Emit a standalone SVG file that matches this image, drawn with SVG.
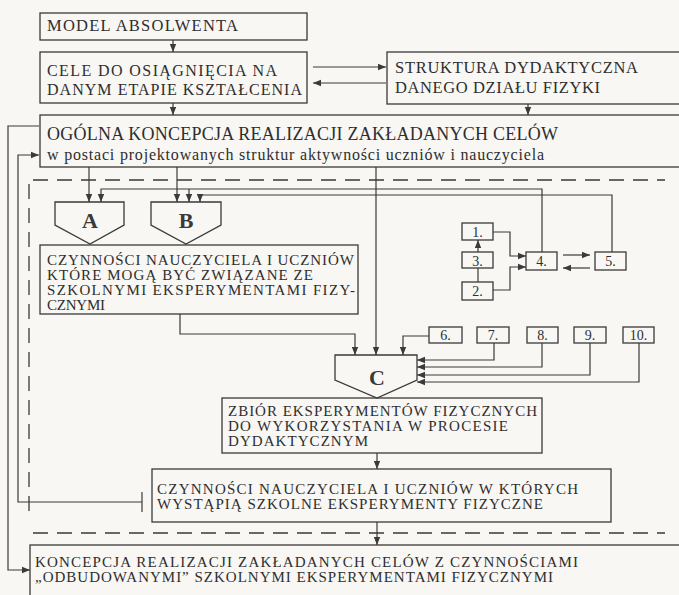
<svg xmlns="http://www.w3.org/2000/svg" width="679" height="595" viewBox="0 0 679 595">
<style>
.bx{fill:none;stroke:#3a3a3a;stroke-width:1.3}
.ln{fill:none;stroke:#3a3a3a;stroke-width:1.2}
.ds{fill:none;stroke:#3a3a3a;stroke-width:1.3;stroke-dasharray:15 9}
.t{font-family:"Liberation Serif","DejaVu Serif",serif;font-size:15px;fill:#2e2e2e}
.tt{font-size:16.5px}
.tc{font-size:16px}
.tb{font-size:18px}
.tl{font-size:16px}
.n{font-family:"Liberation Serif","DejaVu Serif",serif;font-size:14px;fill:#2e2e2e;text-anchor:middle}
.L{font-family:"Liberation Serif","DejaVu Serif",serif;font-size:22px;font-weight:bold;fill:#3a3a3a;text-anchor:middle}
</style>
<defs>
<marker id="ah" viewBox="0 0 8 8" refX="8" refY="4" markerWidth="8" markerHeight="8" markerUnits="userSpaceOnUse" orient="auto">
<path d="M0,0.8 L8,4 L0,7.2 Z" fill="#3a3a3a"/>
</marker>
</defs>
<rect width="679" height="595" fill="#f8f7f4"/>

<g id="connectors">
<path class="ln" d="M173,40 V52" marker-end="url(#ah)"/>
<path class="ln" d="M173,103 V115" marker-end="url(#ah)"/>
<path class="ln" d="M528,104 V115" marker-end="url(#ah)"/>
<path class="ln" d="M313,67 H386" marker-end="url(#ah)"/>
<path class="ln" d="M386,83 H313" marker-end="url(#ah)"/>
<path class="ln" d="M89,167 V202" marker-end="url(#ah)"/>
<path class="ln" d="M177,167 V202" marker-end="url(#ah)"/>
<path class="ln" d="M376,167 V355" marker-end="url(#ah)"/>
<path class="ln" d="M542,252 V189 H101 V202" marker-end="url(#ah)"/>
<path class="ln" d="M189,189 V202" marker-end="url(#ah)"/>
<path class="ln" d="M612,252 V195 H200 V202" marker-end="url(#ah)"/>
<path class="ln" d="M478,252 V240" marker-end="url(#ah)"/>
<path class="ln" d="M478,282 V268"/>
<path class="ln" d="M493,232 H510 V256 H526" marker-end="url(#ah)"/>
<path class="ln" d="M493,290 H510 V267 H526" marker-end="url(#ah)"/>
<path class="ln" d="M563,255 H590" marker-end="url(#ah)"/>
<path class="ln" d="M590,268 H563" marker-end="url(#ah)"/>
<path class="ln" d="M180,314 V334 H355 V355" marker-end="url(#ah)"/>
<path class="ln" d="M429,336 H403 V355" marker-end="url(#ah)"/>
<path class="ln" d="M494,343 V360 H417" marker-end="url(#ah)"/>
<path class="ln" d="M542,343 V367 H417" marker-end="url(#ah)"/>
<path class="ln" d="M590,343 V375 H417" marker-end="url(#ah)"/>
<path class="ln" d="M639,343 V382 H417" marker-end="url(#ah)"/>
<path class="ln" d="M377,453 V469" marker-end="url(#ah)"/>
<path class="ln" d="M377,522 V545" marker-end="url(#ah)"/>
<path class="ln" d="M39,126 H8 V570 H30" marker-end="url(#ah)"/>
<path class="ln" d="M142,502 H18 V155 H39" marker-end="url(#ah)"/>
<path class="ln" d="M142,492 V512"/>
<path class="ds" d="M33,180 H665"/>
<path class="ds" d="M29,184 V519"/>
<path class="ds" d="M33,533 H665"/>
</g>

<g id="model">
<rect class="bx" x="40" y="13" width="267" height="27"/>
<text class="t tt" x="47" y="31" textLength="191" lengthAdjust="spacing">MODEL ABSOLWENTA</text>
</g>
<g id="cele">
<rect class="bx" x="40" y="52" width="267" height="51"/>
<text class="t tc" x="47" y="76" textLength="230" lengthAdjust="spacing">CELE DO OSIĄGNIĘCIA NA</text>
<text class="t tc" x="47" y="95" textLength="255" lengthAdjust="spacing">DANYM ETAPIE KSZTAŁCENIA</text>
</g>
<g id="struktura">
<rect class="bx" x="387" y="52" width="310" height="52"/>
<text class="t tt" x="395" y="73" textLength="243" lengthAdjust="spacing">STRUKTURA DYDAKTYCZNA</text>
<text class="t tt" x="395" y="93" textLength="205" lengthAdjust="spacing">DANEGO DZIAŁU FIZYKI</text>
</g>
<g id="ogolna">
<rect class="bx" x="40" y="115" width="660" height="52"/>
<text class="t tb" x="47" y="140" textLength="511" lengthAdjust="spacing">OGÓLNA KONCEPCJA REALIZACJI ZAKŁADANYCH CELÓW</text>
<text class="t tl" x="47" y="160" textLength="497" lengthAdjust="spacing">w postaci projektowanych struktur aktywności uczniów i nauczyciela</text>
</g>
<g id="A">
<polygon class="bx" points="55,202 124,202 124,225 90,244 55,225"/>
<text class="L" x="90" y="228">A</text>
</g>
<g id="B">
<polygon class="bx" points="151,202 221,202 221,225 186,244 151,225"/>
<text class="L" x="186" y="228">B</text>
</g>
<g id="czynnosci1">
<rect class="bx" x="40" y="245" width="318" height="69"/>
<text class="t" x="47" y="265" textLength="307" lengthAdjust="spacing">CZYNNOŚCI NAUCZYCIELA I UCZNIÓW</text>
<text class="t" x="47" y="280" textLength="266" lengthAdjust="spacing">KTÓRE MOGĄ BYĆ ZWIĄZANE ZE</text>
<text class="t" x="47" y="295" textLength="308" lengthAdjust="spacing">SZKOLNYMI EKSPERYMENTAMI FIZY-</text>
<text class="t" x="47" y="310" textLength="58" lengthAdjust="spacing">CZNYMI</text>
</g>
<g id="n1"><rect class="bx" x="462" y="223" width="31" height="17"/><text class="n" x="477.5" y="237">1.</text></g>
<g id="n3"><rect class="bx" x="462" y="252" width="31" height="16"/><text class="n" x="477.5" y="266">3.</text></g>
<g id="n2"><rect class="bx" x="462" y="282" width="31" height="18"/><text class="n" x="477.5" y="296">2.</text></g>
<g id="n4"><rect class="bx" x="526" y="252" width="31" height="18"/><text class="n" x="541.5" y="266">4.</text></g>
<g id="n5"><rect class="bx" x="595" y="252" width="31" height="18"/><text class="n" x="610.5" y="266">5.</text></g>
<g id="n6"><rect class="bx" x="429" y="327" width="33" height="16"/><text class="n" x="445.5" y="340">6.</text></g>
<g id="n7"><rect class="bx" x="477" y="327" width="32" height="16"/><text class="n" x="493" y="340">7.</text></g>
<g id="n8"><rect class="bx" x="527" y="327" width="31" height="16"/><text class="n" x="542.5" y="340">8.</text></g>
<g id="n9"><rect class="bx" x="574" y="327" width="32" height="16"/><text class="n" x="590" y="340">9.</text></g>
<g id="n10"><rect class="bx" x="623" y="327" width="31" height="16"/><text class="n" x="638.5" y="340">10.</text></g>
<g id="C">
<polygon class="bx" points="335,355 417,355 417,380 377,398 335,380"/>
<text class="L" x="377" y="385">C</text>
</g>
<g id="zbior">
<rect class="bx" x="222" y="398" width="320" height="55"/>
<text class="t" x="228" y="416" textLength="309" lengthAdjust="spacing">ZBIÓR EKSPERYMENTÓW FIZYCZNYCH</text>
<text class="t" x="228" y="431" textLength="280" lengthAdjust="spacing">DO WYKORZYSTANIA W PROCESIE</text>
<text class="t" x="228" y="446" textLength="140" lengthAdjust="spacing">DYDAKTYCZNYM</text>
</g>
<g id="czynnosci2">
<rect class="bx" x="152" y="469" width="459" height="53"/>
<text class="t" x="157" y="494" textLength="421" lengthAdjust="spacing">CZYNNOŚCI NAUCZYCIELA I UCZNIÓW W KTÓRYCH</text>
<text class="t" x="157" y="509" textLength="386" lengthAdjust="spacing">WYSTĄPIĄ SZKOLNE EKSPERYMENTY FIZYCZNE</text>
</g>
<g id="koncepcja">
<rect class="bx" x="30" y="545" width="670" height="60"/>
<text class="t" x="35" y="567" textLength="543" lengthAdjust="spacing">KONCEPCJA REALIZACJI ZAKŁADANYCH CELÓW Z CZYNNOŚCIAMI</text>
<text class="t" x="35" y="582" textLength="518" lengthAdjust="spacing">„ODBUDOWANYMI” SZKOLNYMI EKSPERYMENTAMI FIZYCZNYMI</text>
</g>
</svg>
